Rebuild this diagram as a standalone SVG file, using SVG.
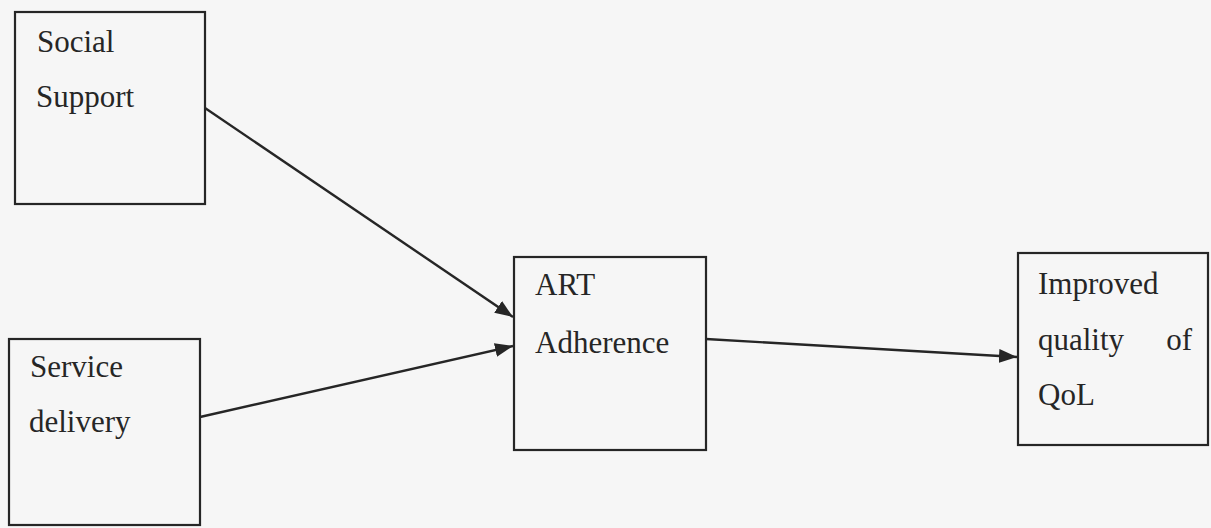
<svg xmlns="http://www.w3.org/2000/svg" width="1211" height="528" viewBox="0 0 1211 528">
<style>
.box{fill:none;stroke:#262626;stroke-width:2.2}
.t{font-family:"Liberation Serif","Times New Roman",serif;font-size:31px;fill:#262626}
.c{stroke:#262626;stroke-width:2.4;fill:none}
</style>
<defs>
<marker id="ah" viewBox="0 0 18 14" refX="18" refY="7" markerWidth="18" markerHeight="14" markerUnits="userSpaceOnUse" orient="auto">
<path d="M0,0 L18,7 L0,14 Z" fill="#262626"/>
</marker>
</defs>
<rect x="0" y="0" width="1211" height="528" fill="#f6f6f6"/>
<g id="social-support">
<rect class="box" x="15" y="12" width="190" height="192"/>
<text class="t" x="37" y="52">Social</text>
<text class="t" x="36" y="107">Support</text>
</g>
<g id="service-delivery">
<rect class="box" x="9" y="339" width="191" height="186"/>
<text class="t" x="30" y="377">Service</text>
<text class="t" x="29" y="432">delivery</text>
</g>
<g id="art-adherence">
<rect class="box" x="514" y="257" width="192" height="193"/>
<text class="t" x="535" y="295">ART</text>
<text class="t" x="535" y="353">Adherence</text>
</g>
<g id="improved-qol">
<rect class="box" x="1018" y="253" width="190" height="192"/>
<text class="t" x="1038" y="294">Improved</text>
<text class="t" x="1038" y="350">quality</text>
<text class="t" x="1192" y="350" text-anchor="end">of</text>
<text class="t" x="1038" y="405">QoL</text>
</g>
<g id="connectors">
<line class="c" x1="205" y1="108" x2="513" y2="317" marker-end="url(#ah)"/>
<line class="c" x1="200" y1="417" x2="513" y2="346" marker-end="url(#ah)"/>
<line class="c" x1="706" y1="339" x2="1017" y2="357" marker-end="url(#ah)"/>
</g>
</svg>
